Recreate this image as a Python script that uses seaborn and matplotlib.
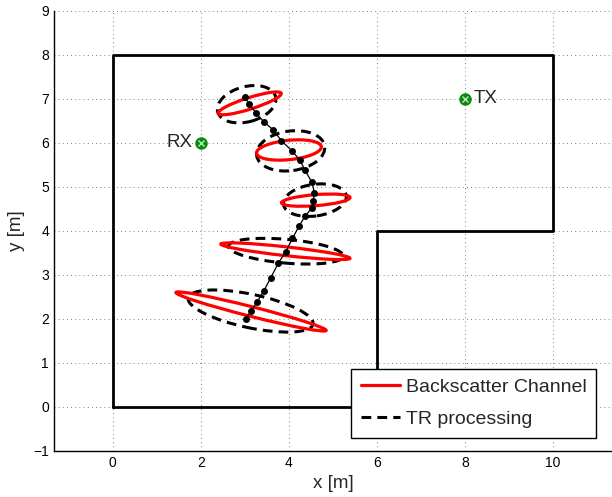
import matplotlib
matplotlib.use('Agg')
import matplotlib.pyplot as plt
from matplotlib.patches import Ellipse
import seaborn as sns
import pandas as pd

# Contorno da sala
sala_x = [0, 0, 10, 10, 6, 6, 0]
sala_y = [0, 8, 8, 4, 4, 0, 0]

# Trajetoria (pontos)
traj_x = [3.00, 3.10, 3.25, 3.43, 3.64, 3.83, 4.07, 4.25, 4.36, 4.52, 4.58, 4.55,
          4.52, 4.37, 4.23, 4.08, 3.93, 3.76, 3.59, 3.43, 3.28, 3.14, 3.02]
traj_y = [7.04, 6.88, 6.69, 6.48, 6.30, 6.05, 5.82, 5.61, 5.39, 5.11, 4.87, 4.68,
          4.52, 4.34, 4.11, 3.83, 3.53, 3.27, 2.94, 2.64, 2.39, 2.18, 2.01]

# Elipses Backscatter Channel: centro, semi-eixos, angulo
bs_cx = [3.11, 4.00, 4.61, 3.92, 3.14]
bs_cy = [6.90, 5.84, 4.70, 3.54, 2.17]
bs_a = [0.75, 0.74, 0.78, 1.475, 1.76]
bs_b = [0.13, 0.22, 0.125, 0.10, 0.11]
bs_ang = [17.7, 5.8, 4.5, -6.3, -14.2]

# Elipses TR processing
tr_cx = [3.04, 4.04, 4.59, 3.93, 3.13]
tr_cy = [6.88, 5.82, 4.70, 3.54, 2.18]
tr_a = [0.68, 0.78, 0.72, 1.31, 1.45]
tr_b = [0.40, 0.45, 0.36, 0.27, 0.38]
tr_ang = [15, 8, 8, -5, -12]

# Antenas
rx = (2, 6)
tx = (8, 7)

df = pd.DataFrame({'x': traj_x, 'y': traj_y})

sns.set_style('white')
plt.rcParams['font.family'] = ['Liberation Sans', 'DejaVu Sans']

fig = plt.figure(figsize=(6.12, 4.97), dpi=100)
ax = fig.add_axes([0.088, 0.0926, 0.912, 0.8854])
ax.set_axisbelow(True)

ax.plot(sala_x, sala_y, color='black', linewidth=2)

sns.lineplot(x='x', y='y', data=df, sort=False, estimator=None, color='black',
             linewidth=0.9, marker='o', markersize=5, markeredgewidth=0, ax=ax)

for i in range(len(bs_cx)):
    ax.add_patch(Ellipse((tr_cx[i], tr_cy[i]), 2 * tr_a[i], 2 * tr_b[i], angle=tr_ang[i],
                         fill=False, edgecolor='black', linewidth=2.2, linestyle=(0, (3.2, 2.0))))
    ax.add_patch(Ellipse((bs_cx[i], bs_cy[i]), 2 * bs_a[i], 2 * bs_b[i], angle=bs_ang[i],
                         fill=False, edgecolor='red', linewidth=2.3))

# RX e TX
for p in [rx, tx]:
    ax.plot(p[0], p[1], 'o', color='#0a8a0a', markersize=9, markeredgewidth=0)
    ax.plot(p[0], p[1], 'x', color='#bfe6bf', markersize=4.5, markeredgewidth=1)
ax.text(rx[0] - 0.2, rx[1], 'RX', ha='right', va='center', fontsize=13.5)
ax.text(tx[0] + 0.2, tx[1], 'TX', ha='left', va='center', fontsize=13.5)

# Legenda
ax.plot([], [], color='red', linewidth=2.3, label='Backscatter Channel')
ax.plot([], [], color='black', linewidth=2.2, linestyle=(0, (3.2, 2.0)), label='TR processing')
leg = ax.legend(loc='lower right', bbox_to_anchor=(0.972, 0.03), fontsize=14,
                frameon=True, fancybox=False, framealpha=1, edgecolor='black',
                handlelength=2.0, handletextpad=0.3, borderpad=0.5, labelspacing=0.75,
                borderaxespad=0)
leg.get_frame().set_linewidth(1)

ax.set_xlim(-1.34, 11.34)
ax.set_ylim(-1, 9)
ax.set_xticks([0, 2, 4, 6, 8, 10])
ax.set_yticks(range(-1, 10))
ax.set_yticklabels(['\u22121'] + [str(v) for v in range(0, 10)])
ax.grid(True, linestyle=(0, (1, 4)), color='#555555', linewidth=0.6)
ax.tick_params(direction='in', length=4, labelsize=10, colors='black')
ax.set_xlabel('x [m]', fontsize=13.5, labelpad=4)
ax.set_ylabel('y [m]', fontsize=13.5, labelpad=6)

for s in ['top', 'right']:
    ax.spines[s].set_visible(False)
for s in ['left', 'bottom']:
    ax.spines[s].set_color('black')
    ax.spines[s].set_linewidth(1)

plt.savefig('out.png', dpi=100)
